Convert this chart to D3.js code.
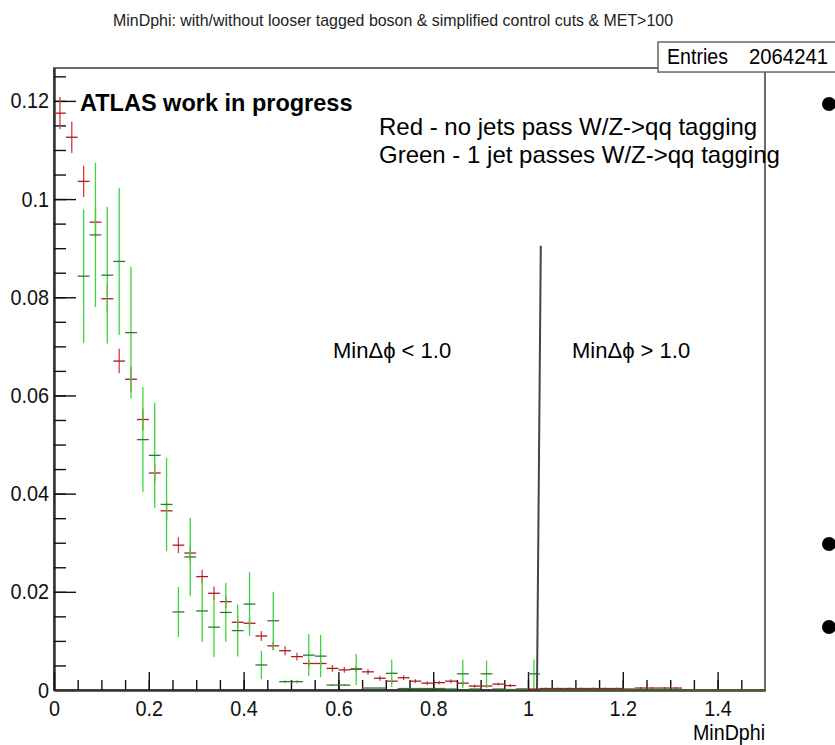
<!DOCTYPE html>
<html>
<head>
<meta charset="utf-8">
<script src="https://cdn.jsdelivr.net/npm/d3@7"></script>
<style>
body { margin: 0; background: #fff; }
svg { display: block; font-family: "Liberation Sans", Arial, Helvetica, sans-serif; }
</style>
</head>
<body>
<div id="chart"></div>
<script>
// histogram binning: 60 bins of 0.025 from 0 to 1.5
const binLow = 0;
const binHigh = 1.5;
const binWidth = 0.025;

// red: no jets pass W/Z->qq tagging
const redValues = [
  0.1175, 0.1126, 0.1036, 0.0953, 0.0797, 0.0670, 0.0633, 0.0551, 0.0442, 0.0365,
  0.0295, 0.0279, 0.0231, 0.0197, 0.0180, 0.0138, 0.0136, 0.0110, 0.0090, 0.0080,
  0.0068, 0.0054, 0.0054, 0.0044, 0.0041, 0.0043, 0.0037, 0.0024, 0.0018, 0.0025,
  0.0018, 0.0014, 0.0015, 0.0018, 0.0014, 0.0008, 0.0008, 0.0012, 0.0009, 0.0002,
  0.0002, 0.0003, 0.0003, 0.0003, 0.0003, 0.0003, 0.0003, 0.0003, 0.0002, 0.0004,
  0.0004, 0.0004, 0.0004, 0, 0, 0, 0, 0, 0, 0
];
const redErrors = [
  0.0033, 0.0032, 0.0032, 0.0030, 0.0029, 0.0025, 0.0025, 0.0022, 0.0020, 0.0019,
  0.0016, 0.0016, 0.0014, 0.0014, 0.0013, 0.0012, 0.0012, 0.0010, 0.0009, 0.0009,
  0.0008, 0.0007, 0.0007, 0.0007, 0.0006, 0.0006, 0.0006, 0.0005, 0.0004, 0.0005,
  0.0004, 0.0004, 0.0004, 0.0004, 0.0004, 0.0003, 0.0003, 0.0003, 0.0003, 0.0001,
  0.0001, 0.0002, 0.0002, 0.0002, 0.0002, 0.0002, 0.0002, 0.0002, 0.0001, 0.0002,
  0.0002, 0.0002, 0.0002, 0, 0, 0, 0, 0, 0, 0
];

// green: 1 jet passes W/Z->qq tagging (null = not drawn)
const greenValues = [
  null, null, 0.0843, 0.0927, 0.0845, 0.0873, 0.0728, 0.0510, 0.0478, 0.0378,
  0.0159, 0.0271, 0.0161, 0.0128, 0.0158, 0.0121, 0.0175, 0.0051, 0.0141, 0.0017,
  0.0017, 0.0071, 0.0069, 0.0010, 0.0010, 0.0042, 0.0004, 0.0004, 0.0034, 0.0003,
  0.0003, 0.0003, 0.0003, 0.0002, 0.0033, 0.0002, 0.0033, 0.0002, 0.0001, 0.0001,
  0.0033, 0, 0, 0, 0, 0, 0, 0, 0, 0,
  0, 0, 0, 0, 0, 0, 0, 0, 0, 0
];
const greenErrors = [
  0, 0, 0.0136, 0.0147, 0.0139, 0.0150, 0.0134, 0.0107, 0.0107, 0.0095,
  0.0051, 0.0080, 0.0063, 0.0061, 0.0060, 0.0053, 0.0065, 0.0029, 0.0059, 0.0003,
  0.0003, 0.0043, 0.0043, 0.0002, 0.0002, 0.0032, 0.0001, 0.0001, 0.0028, 0.0001,
  0.0001, 0.0001, 0.0001, 0.0001, 0.0029, 0.0001, 0.0027, 0.0001, 0, 0,
  0.0029, 0, 0, 0, 0, 0, 0, 0, 0, 0,
  0, 0, 0, 0, 0, 0, 0, 0, 0, 0
];

const xTicks = [0, 0.2, 0.4, 0.6, 0.8, 1, 1.2, 1.4];
const xTickLabels = ["0", "0.2", "0.4", "0.6", "0.8", "1", "1.2", "1.4"];
const yTicks = [0, 0.02, 0.04, 0.06, 0.08, 0.1, 0.12];
const yTickLabels = ["0", "0.02", "0.04", "0.06", "0.08", "0.1", "0.12"];
const yMax = 0.1267;

const titleText = "MinDphi: with/without looser tagged boson & simplified control cuts & MET>100";
const statsLabel = "Entries";
const statsValue = "2064241";
const legendLines = ["Red - no jets pass W/Z->qq tagging", "Green - 1 jet passes W/Z->qq tagging"];
const cutLine = [[1.027, 0.0905], [1.019, 0]];

const width = 835, height = 745;
const margin = { top: 68, right: 70, bottom: 55, left: 54 };

const svg = d3.select("#chart")
  .append("svg")
    .attr("width", width)
    .attr("height", height);

const x = d3.scaleLinear()
  .domain([binLow, binHigh])
  .range([margin.left, width - margin.right]);

const y = d3.scaleLinear()
  .domain([0, yMax])
  .range([height - margin.bottom, margin.top]);

svg.append("clipPath").attr("id", "plot-clip")
  .append("rect")
    .attr("x", x(binLow)).attr("y", y(yMax))
    .attr("width", x(binHigh) - x(binLow))
    .attr("height", y(0) - y(yMax) + 2);

// frame
svg.append("rect")
  .attr("x", x(binLow)).attr("y", y(yMax))
  .attr("width", x(binHigh) - x(binLow))
  .attr("height", y(0) - y(yMax))
  .attr("fill", "none")
  .attr("stroke", "#6a6a6a")
  .attr("stroke-width", 2);

// axes
svg.append("g")
  .attr("transform", `translate(${x(binLow)},0)`)
  .call(d3.axisLeft(y).tickValues(yTicks).tickSize(-22).tickSizeOuter(0).tickPadding(5)
    .tickFormat((d, i) => yTickLabels[i]));
svg.append("g")
  .attr("transform", `translate(${x(binLow)},0)`)
  .call(d3.axisLeft(y).tickValues(d3.range(0.005, yMax, 0.005)).tickSize(-12).tickSizeOuter(0).tickFormat(""));

svg.append("g")
  .attr("transform", `translate(0,${y(0)})`)
  .call(d3.axisBottom(x).tickValues(xTicks).tickSize(-18).tickSizeOuter(0).tickPadding(10)
    .tickFormat((d, i) => xTickLabels[i]));
svg.append("g")
  .attr("transform", `translate(0,${y(0)})`)
  .call(d3.axisBottom(x).tickValues(d3.range(0.05, binHigh, 0.05)).tickSize(-10).tickSizeOuter(0).tickFormat(""));

svg.selectAll(".domain").attr("stroke", "#333").attr("stroke-width", 2);
svg.selectAll(".tick line").attr("stroke", "#111").attr("stroke-width", 1.4);
svg.selectAll(".tick text").attr("font-size", 22).attr("fill", "#111")
  .attr("font-family", "Liberation Sans, Arial, sans-serif")
  .each(function () {
    const w = this.getComputedTextLength();
    d3.select(this).attr("textLength", w * 0.9).attr("lengthAdjust", "spacingAndGlyphs");
  });

const centers = d3.range(redValues.length).map(i => binLow + (i + 0.5) * binWidth);

function drawHist(values, errors, vColor, hColor) {
  const g = svg.append("g").attr("clip-path", "url(#plot-clip)");
  const pts = centers.map((c, i) => ({ c, v: values[i], e: errors[i] }))
    .filter(d => d.v !== null);

  g.selectAll(".ebar").data(pts.filter(d => d.e > 0)).join("line")
    .attr("x1", d => x(d.c)).attr("x2", d => x(d.c))
    .attr("y1", d => y(d.v - d.e)).attr("y2", d => y(d.v + d.e))
    .attr("stroke", vColor).attr("stroke-width", 1.3);

  g.selectAll(".hbar").data(pts).join("line")
    .attr("x1", d => x(d.c - binWidth / 2)).attr("x2", d => x(d.c + binWidth / 2))
    .attr("y1", d => y(d.v)).attr("y2", d => y(d.v))
    .attr("stroke", hColor).attr("stroke-width", 1.3);
}

drawHist(redValues, redErrors, "#d8393b", "#a81c1c");
drawHist(greenValues, greenErrors, "#3fd43f", "#2f7a2f");

// divider line
svg.append("line")
  .attr("x1", x(cutLine[0][0])).attr("y1", y(cutLine[0][1]))
  .attr("x2", x(cutLine[1][0])).attr("y2", y(cutLine[1][1]))
  .attr("stroke", "#444").attr("stroke-width", 2);

// axis title
svg.append("text")
  .attr("x", x(binHigh)).attr("y", 740)
  .attr("text-anchor", "end")
  .attr("font-size", 22)
  .attr("textLength", 72).attr("lengthAdjust", "spacingAndGlyphs")
  .text("MinDphi");

// histogram title
svg.append("text")
  .attr("x", 393).attr("y", 26)
  .attr("text-anchor", "middle")
  .attr("font-size", 17)
  .attr("fill", "#222")
  .attr("textLength", 560).attr("lengthAdjust", "spacingAndGlyphs")
  .text(titleText);

// stats box
svg.append("rect")
  .attr("x", 658).attr("y", 42).attr("width", 200).attr("height", 30)
  .attr("fill", "#fff").attr("stroke", "#666").attr("stroke-width", 1.5);
svg.append("text")
  .attr("x", 667).attr("y", 64).attr("font-size", 22)
  .attr("textLength", 61).attr("lengthAdjust", "spacingAndGlyphs")
  .text(statsLabel);
svg.append("text")
  .attr("x", 828).attr("y", 64).attr("font-size", 22).attr("text-anchor", "end")
  .attr("textLength", 79).attr("lengthAdjust", "spacingAndGlyphs")
  .text(statsValue);

// annotations
svg.append("text")
  .attr("x", 80).attr("y", 111)
  .attr("font-size", 23.5).attr("font-weight", "bold")
  .text("ATLAS work in progress");

svg.selectAll(".legend").data(legendLines).join("text")
  .attr("x", 379).attr("y", (d, i) => 135 + i * 28)
  .attr("font-size", 24)
  .text(d => d);

svg.append("text")
  .attr("x", 333).attr("y", 358).attr("font-size", 22)
  .text("MinΔϕ < 1.0");
svg.append("text")
  .attr("x", 572).attr("y", 358).attr("font-size", 22)
  .text("MinΔϕ > 1.0");

// slide bullets
svg.selectAll(".bullet").data([104, 544, 627]).join("circle")
  .attr("cx", 829).attr("cy", d => d).attr("r", 7).attr("fill", "#000");
</script>
</body>
</html>
